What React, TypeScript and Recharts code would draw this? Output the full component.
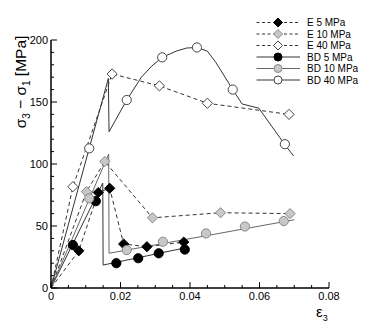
import { ComposedChart, Line, Scatter, XAxis, YAxis, Legend } from 'recharts';

// experimental points (strain, deviatoric stress)
const E5_STRAIN = [0.008, 0.0136, 0.0169, 0.0209, 0.0276, 0.0382];
const E5_STRESS = [30, 77, 80.4, 35.5, 33.3, 37];
const E10_STRAIN = [0.0102, 0.0155, 0.0292, 0.0488, 0.0688];
const E10_STRESS = [77.7, 102, 56.6, 60.7, 60];
const E40_STRAIN = [0.0063, 0.0176, 0.0312, 0.045, 0.0685];
const E40_STRESS = [81.7, 172.6, 163, 149, 140];

// model markers
const BD5_STRAIN = [0.0063, 0.0129, 0.0188, 0.0251, 0.031, 0.0385];
const BD5_STRESS = [34.7, 70, 20, 24, 28, 31];
const BD10_STRAIN = [0.011, 0.0218, 0.0322, 0.0446, 0.0558, 0.067];
const BD10_STRESS = [72.3, 30.6, 37.3, 44, 49.6, 54];
const BD40_STRAIN = [0.011, 0.0218, 0.032, 0.042, 0.0523, 0.0673];
const BD40_STRESS = [112.6, 151.6, 186, 194, 160, 116];

// model curves
const BD5_CURVE_STRAIN = [0, 0.0149, 0.015, 0.0388];
const BD5_CURVE_STRESS = [0, 84.6, 18.5, 32.5];
const BD10_CURVE_STRAIN = [0, 0.0166, 0.0167, 0.07];
const BD10_CURVE_STRESS = [0, 108, 28, 55];
const BD40_CURVE_STRAIN = [0, 0.0165, 0.0167, 0.0218, 0.026, 0.029, 0.032, 0.036, 0.039, 0.042, 0.045, 0.0473, 0.0523, 0.055, 0.0598, 0.0672, 0.0698];
const BD40_CURVE_STRESS = [0, 169, 126, 151.6, 170, 179, 186, 191, 193.5, 194, 191, 182.5, 160, 148.4, 145, 116, 106.5];

const X_TICKS = [0, 0.005, 0.01, 0.015, 0.02, 0.025, 0.03, 0.035, 0.04, 0.045, 0.05, 0.055, 0.06, 0.065, 0.07, 0.075, 0.08];
const X_LABELS = ['0', '', '', '', '0.02', '', '', '', '0.04', '', '', '', '0.06', '', '', '', '0.08'];
const Y_TICKS = [0, 10, 20, 30, 40, 50, 60, 70, 80, 90, 100, 110, 120, 130, 140, 150, 160, 170, 180, 190, 200];

const FONT = '"Liberation Sans", Arial, Helvetica, sans-serif';

const zip = (xs: number[], ys: number[]) => xs.map((x, i) => ({ x, y: ys[i] }));
const withOrigin = (xs: number[], ys: number[]) => [{ x: 0, y: 0 }, ...zip(xs, ys)];

type MarkerStyle = { kind: 'diamond' | 'circle'; fill: string; stroke: string };

const SERIES: { name: string; dashed: boolean; lineColor: string; marker: MarkerStyle }[] = [
  { name: 'E 5 MPa', dashed: true, lineColor: '#333', marker: { kind: 'diamond', fill: '#000', stroke: '#000' } },
  { name: 'E 10 MPa', dashed: true, lineColor: '#333', marker: { kind: 'diamond', fill: '#c8c8c8', stroke: '#888' } },
  { name: 'E 40 MPa', dashed: true, lineColor: '#333', marker: { kind: 'diamond', fill: '#fff', stroke: '#444' } },
  { name: 'BD 5 MPa', dashed: false, lineColor: '#333', marker: { kind: 'circle', fill: '#000', stroke: '#000' } },
  { name: 'BD 10 MPa', dashed: false, lineColor: '#666', marker: { kind: 'circle', fill: '#c8c8c8', stroke: '#888' } },
  { name: 'BD 40 MPa', dashed: false, lineColor: '#333', marker: { kind: 'circle', fill: '#fff', stroke: '#444' } },
];

const drawMarker = (m: MarkerStyle, cx: number, cy: number, r: number) =>
  m.kind === 'circle' ? (
    <circle cx={cx} cy={cy} r={r} fill={m.fill} stroke={m.stroke} strokeWidth={1} />
  ) : (
    <polygon
      points={`${cx},${cy - r - 0.5} ${cx + r + 0.5},${cy} ${cx},${cy + r + 0.5} ${cx - r - 0.5},${cy}`}
      fill={m.fill}
      stroke={m.stroke}
      strokeWidth={1}
    />
  );

const markerShape = (m: MarkerStyle) => (props: any) => drawMarker(m, props.cx, props.cy, 4.6);

const XTick = (props: any) => {
  const { x, y, payload, index } = props;
  const label = X_LABELS[index] ?? '';
  const major = label !== '';
  return (
    <g>
      <line x1={x} x2={x} y1={y} y2={y - (major ? 6 : 3)} stroke="#000" strokeWidth={1} />
      {major && (
        <text x={x} y={y + 12} textAnchor="middle" fontSize={11} fontFamily={FONT} fill="#000">
          {label}
        </text>
      )}
    </g>
  );
};

const YTick = (props: any) => {
  const { x, y, payload } = props;
  const v = payload.value as number;
  const major = v % 50 === 0;
  return (
    <g>
      <line x1={x} x2={x + (major ? 6 : 3)} y1={y} y2={y} stroke="#000" strokeWidth={1} />
      {major && (
        <text x={x - 3} y={y + 4} textAnchor="end" fontSize={11} fontFamily={FONT} fill="#000">
          {v}
        </text>
      )}
    </g>
  );
};

const renderLegend = () => (
  <svg width={116} height={76} style={{ display: 'block' }}>
    {SERIES.map((s, i) => {
      const cy = 6.5 + i * 11.5;
      return (
        <g key={s.name}>
          <line
            x1={6.5}
            x2={50}
            y1={cy}
            y2={cy}
            stroke={s.lineColor}
            strokeWidth={1}
            strokeDasharray={s.dashed ? '3 2.5' : undefined}
          />
          {drawMarker(s.marker, 28, cy, 4)}
          <text x={57} y={cy + 3.6} fontSize={10} fontFamily={FONT} fill="#000">
            {s.name}
          </text>
        </g>
      );
    })}
  </svg>
);

const e5 = zip(E5_STRAIN, E5_STRESS);
const e10 = zip(E10_STRAIN, E10_STRESS);
const e40 = zip(E40_STRAIN, E40_STRESS);
const lineSets = [
  withOrigin(E5_STRAIN, E5_STRESS),
  withOrigin(E10_STRAIN, E10_STRESS),
  withOrigin(E40_STRAIN, E40_STRESS),
  zip(BD5_CURVE_STRAIN, BD5_CURVE_STRESS),
  zip(BD10_CURVE_STRAIN, BD10_CURVE_STRESS),
  zip(BD40_CURVE_STRAIN, BD40_CURVE_STRESS),
];
const markerSets = [
  e5,
  e10,
  e40,
  zip(BD5_STRAIN, BD5_STRESS),
  zip(BD10_STRAIN, BD10_STRESS),
  zip(BD40_STRAIN, BD40_STRESS),
];

export default function App() {
  return (
    <div style={{ position: 'absolute', left: 0, top: 0, width: 366, height: 325, background: '#fff' }}>
      <ComposedChart width={366} height={325} margin={{ top: 40, right: 37, bottom: 0, left: 0 }}>
        <XAxis
          dataKey="x"
          type="number"
          domain={[0, 0.08]}
          ticks={X_TICKS}
          interval={0}
          tickSize={0}
          tickMargin={0}
          tickLine={false}
          tick={<XTick />}
          height={37}
          axisLine={{ stroke: '#000', strokeWidth: 1.5 }}
          allowDataOverflow
        />
        <YAxis
          dataKey="y"
          type="number"
          domain={[0, 200]}
          ticks={Y_TICKS}
          interval={0}
          tickSize={0}
          tickMargin={0}
          tickLine={false}
          tick={<YTick />}
          width={51}
          axisLine={{ stroke: '#000', strokeWidth: 1.5 }}
          allowDataOverflow
        />
        {SERIES.map((s, i) => (
          <Line
            key={`line-${s.name}`}
            data={lineSets[i]}
            dataKey="y"
            type="linear"
            stroke={s.lineColor}
            strokeWidth={1}
            strokeDasharray={s.dashed ? '4 3' : undefined}
            dot={false}
            activeDot={false}
            legendType="none"
            isAnimationActive={false}
          />
        ))}
        {SERIES.map((s, i) => (
          <Scatter
            key={`pts-${s.name}`}
            name={s.name}
            data={markerSets[i]}
            dataKey="y"
            shape={markerShape(s.marker)}
            isAnimationActive={false}
          />
        ))}
        <Legend
          layout="vertical"
          align="center"
          verticalAlign="middle"
          content={renderLegend}
          wrapperStyle={{ left: 250, top: 16, width: 116, height: 76 }}
        />
      </ComposedChart>
      <svg width={366} height={325} style={{ position: 'absolute', left: 0, top: 0, pointerEvents: 'none' }}>
        <text
          transform="translate(26,82) rotate(-90)"
          textAnchor="middle"
          fontSize={15.5}
          fontFamily={FONT}
          fill="#000"
        >
          σ<tspan fontSize={10} dy={4}>3</tspan>
          <tspan dy={-4}> − σ</tspan>
          <tspan fontSize={10} dy={4}>1</tspan>
          <tspan dy={-4}> [MPa]</tspan>
        </text>
        <text x={316} y={317} fontSize={15} fontFamily={FONT} fill="#000">
          ε<tspan fontSize={9} dy={4}>3</tspan>
        </text>
      </svg>
    </div>
  );
}
